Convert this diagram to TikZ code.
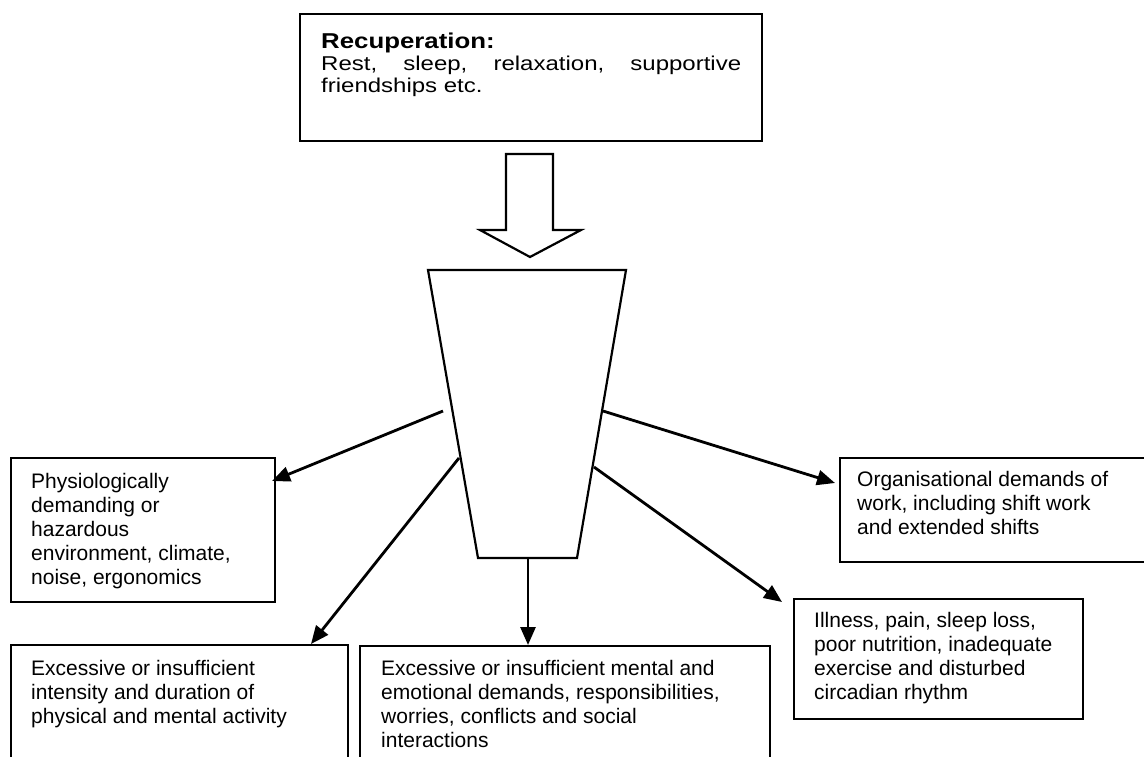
\documentclass[tikz,border=0pt]{standalone}
\usepackage{fontspec}
\setmainfont{Liberation Sans}
\newfontfamily\topfont[FakeStretch=1.2]{Liberation Sans}
\usetikzlibrary{arrows.meta}
\tikzset{
  box/.style={draw=black, line width=2.2pt, fill=white, inner sep=0pt, anchor=north west},
  txt/.style={inner sep=0pt, anchor=north west, align=left, font=\fontsize{21}{24}\selectfont},
  conn/.style={draw=black, line width=2.8pt, -{Triangle[length=18pt,width=15pt]}},
  outline/.style={draw=black, line width=2.2pt, line join=miter, fill=white},
}
\begin{document}
\begin{tikzpicture}[x=1pt, y=-1pt]
\useasboundingbox (0,0) rectangle (1144,756);
\clip (0,0) rectangle (1144,756);
\fill[white] (0,0) rectangle (1144,756);

% top box
\node[box, minimum width=462pt, minimum height=127pt] (top) at (299,13) {};
\node[inner sep=0pt, anchor=north west, text width=420pt, font=\topfont\fontsize{20}{22}\selectfont] (toptxt) at (321,33)
  {\noindent{\bfseries\fontsize{21.5}{22}\selectfont Recuperation:}\\Rest,\hfill sleep,\hfill relaxation,\hfill supportive\\friendships etc.};

% block arrow
\draw[outline] (506,154) coordinate (ba1) -- (553,154) -- (553,230) -- (581,230) -- (530,257) coordinate (batip) -- (480,230) -- (506,230) -- cycle;

% trapezoid
\draw[outline] (428,270) coordinate (tl) -- (626,270) coordinate (tr) -- (577,558) coordinate (br) -- (478,558) coordinate (bl) -- cycle;

% boxes
\node[box, minimum width=264pt, minimum height=144pt] (b1) at (10,457) {};
\node[txt] (t1) at (31,472.7) {Physiologically\\demanding or\\hazardous\\environment, climate,\\noise, ergonomics};

\node[box, minimum width=337pt, minimum height=130pt] (b2) at (10,644) {};
\node[txt] (t2) at (31,659.7) {Excessive or insufficient\\intensity and duration of\\physical and mental activity};

\node[box, minimum width=410pt, minimum height=130pt] (b3) at (359,645) {};
\node[txt] (t3) at (381,659.7) {Excessive or insufficient mental and\\emotional demands, responsibilities,\\worries, conflicts and social\\interactions};

\node[box, minimum width=330pt, minimum height=104pt] (b4) at (839,457) {};
\node[txt] (t4) at (857,471.5) {Organisational demands of\\work, including shift work\\and extended shifts};

\node[box, minimum width=289pt, minimum height=120pt] (b5) at (793,598) {};
\node[txt] (t5) at (814,611.7) {Illness, pain, sleep loss,\\poor nutrition, inadequate\\exercise and disturbed\\circadian rhythm};

% connector end points
\coordinate (s1) at (443,411);
\coordinate (e1) at (272,481);
\coordinate (s2) at (459,458);
\coordinate (e2) at (311,644);
\coordinate (s3) at (528,558);
\coordinate (e3) at (528,645);
\coordinate (s4) at (603,411);
\coordinate (e4) at (835,483);
\coordinate (s5) at (594,467);
\coordinate (e5) at (782,602);

\draw[conn] (s1) -- (e1);
\draw[conn] (s2) -- (e2);
\draw[conn] (s3) -- (e3);
\draw[conn] (s4) -- (e4);
\draw[conn] (s5) -- (e5);
\end{tikzpicture}
\end{document}
